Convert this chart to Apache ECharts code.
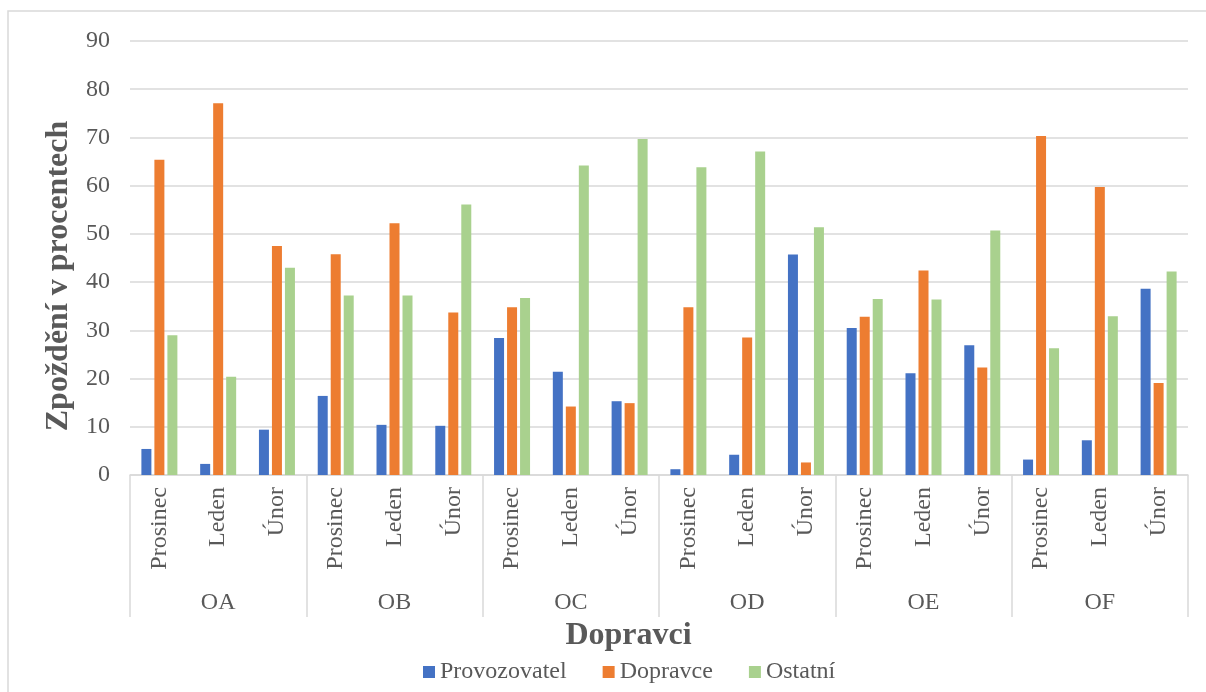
<!DOCTYPE html>
<html>
<head>
<meta charset="utf-8">
<script src="https://cdn.jsdelivr.net/npm/echarts@6/dist/echarts.min.js"></script>
<style>
  html, body { margin: 0; padding: 0; background: #fff; }
  #chart { width: 1206px; height: 692px; }
</style>
</head>
<body>
<div id="chart"></div>
<script>
// Carriers (outer category level) and months (inner level)
const carriers = ['OA', 'OB', 'OC', 'OD', 'OE', 'OF'];
const months = ['Prosinec', 'Leden', 'Únor'];

// Delay shares in percent, one value per carrier × month (18 values)
const provozovatel = [5.4, 2.3, 9.4, 16.4, 10.4, 10.2, 28.4, 21.4, 15.3, 1.2, 4.2, 45.7, 30.5, 21.1, 26.9, 3.2, 7.2, 38.6];
const dopravce     = [65.4, 77.1, 47.5, 45.8, 52.2, 33.7, 34.8, 14.2, 14.9, 34.8, 28.5, 2.6, 32.8, 42.4, 22.3, 70.3, 59.7, 19.1];
const ostatni      = [29.0, 20.4, 43.0, 37.2, 37.2, 56.1, 36.7, 64.2, 69.7, 63.8, 67.1, 51.4, 36.5, 36.4, 50.7, 26.3, 32.9, 42.2];

const yTicks = { min: 0, max: 90, step: 10 };

const monthCategories = [];
carriers.forEach(c => months.forEach(m => monthCategories.push(c + '|' + m)));

const serif = '"Liberation Serif", "Times New Roman", serif';
const textGray = '#595959';
const lineGray = '#d9d9d9';

const chart = echarts.init(document.getElementById('chart'), null, { renderer: 'canvas' });

function barSeries(name, data, color) {
  return {
    name: name,
    type: 'bar',
    xAxisIndex: 0,
    data: data,
    barWidth: 10,
    barGap: '30%',
    itemStyle: { color: color },
    emphasis: { disabled: true }
  };
}

chart.setOption({
  animation: false,
  backgroundColor: '#ffffff',
  graphic: [{
    type: 'rect',
    shape: { x: 8, y: 11, width: 1220, height: 720 },
    style: { fill: 'none', stroke: lineGray, lineWidth: 1.5 },
    silent: true,
    z: -1
  }],
  grid: { left: 130, right: 18, top: 41, bottom: 217, containLabel: false },
  legend: {
    bottom: 3,
    left: 418,
    itemWidth: 12,
    itemHeight: 12,
    itemGap: 36,
    icon: 'rect',
    textStyle: { fontFamily: serif, fontSize: 24, color: textGray },
    data: ['Provozovatel', 'Dopravce', 'Ostatní']
  },
  xAxis: [
    {
      type: 'category',
      data: monthCategories,
      position: 'bottom',
      axisLine: { show: true, lineStyle: { color: lineGray, width: 1.5 } },
      axisTick: { show: false },
      axisLabel: {
        interval: 0,
        rotate: 90,
        margin: 12,
        fontFamily: serif,
        fontSize: 24,
        color: textGray,
        formatter: v => v.split('|')[1]
      }
    },
    {
      type: 'category',
      data: carriers,
      position: 'bottom',
      axisLine: { show: false },
      axisTick: { show: true, length: 142, lineStyle: { color: lineGray, width: 1.5 } },
      axisLabel: {
        interval: 0,
        margin: 116,
        fontFamily: serif,
        fontSize: 24,
        color: textGray
      },
      name: 'Dopravci',
      nameLocation: 'middle',
      nameGap: 145,
      nameTextStyle: { fontFamily: serif, fontSize: 32, fontWeight: 'bold', color: textGray, padding: [0, 61, 0, 0] }
    }
  ],
  yAxis: {
    type: 'value',
    min: yTicks.min,
    max: yTicks.max,
    interval: yTicks.step,
    axisLine: { show: false },
    axisTick: { show: false },
    splitLine: { lineStyle: { color: lineGray, width: 1.5 } },
    axisLabel: { margin: 20, fontFamily: serif, fontSize: 24, color: textGray },
    name: 'Zpoždění v procentech',
    nameLocation: 'middle',
    nameGap: 51,
    nameTextStyle: { fontFamily: serif, fontSize: 32, fontWeight: 'bold', color: textGray, padding: [0, 36, 0, 0] }
  },
  series: [
    barSeries('Provozovatel', provozovatel, '#4472c4'),
    barSeries('Dopravce', dopravce, '#ed7d31'),
    barSeries('Ostatní', ostatni, '#a9d18e')
  ]
});
</script>
</body>
</html>
